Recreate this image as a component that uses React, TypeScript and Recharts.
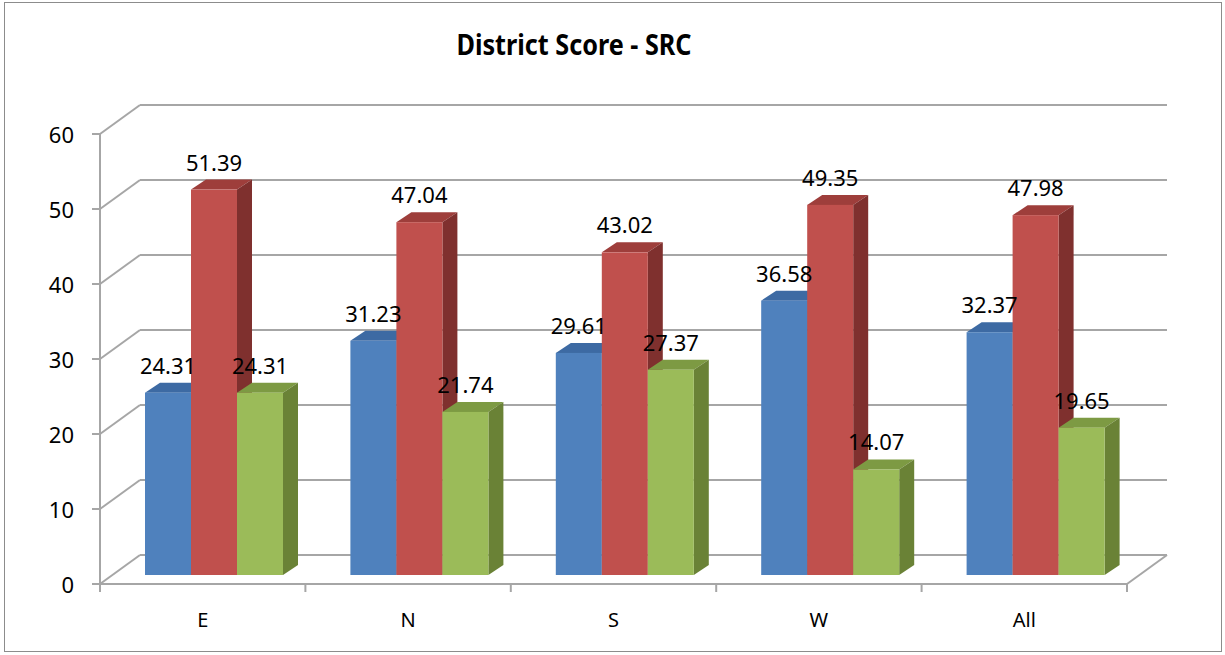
import React from "react";
import { BarChart, Bar, XAxis, YAxis, CartesianGrid, LabelList } from "recharts";

const categories = ["E", "N", "S", "W", "All"];
const blueValues = [24.31, 31.23, 29.61, 36.58, 32.37];
const redValues = [51.39, 47.04, 43.02, 49.35, 47.98];
const greenValues = [24.31, 21.74, 27.37, 14.07, 19.65];
const yTicks = [0, 10, 20, 30, 40, 50, 60];

const data = categories.map((name, i) => ({
  name,
  blue: blueValues[i],
  red: redValues[i],
  green: greenValues[i],
}));

const FONT = "'Noto Sans', 'Open Sans', sans-serif";
const GRID = "#a6a6a6";
// offsets of the front plane and back wall relative to the bar plane
const FRONT = { dx: -11, dy: 9 };
const BACK = { dx: 29, dy: -20 };
const BAR_DEPTH = { dx: 15, dy: -10 };
const PLOT_BOTTOM = 575;

function box(front: string, top: string, side: string) {
  return (props: any) => {
    const { x, y, width, height } = props;
    if (!height || height <= 0) return <g />;
    const { dx, dy } = BAR_DEPTH;
    return (
      <g>
        <path
          d={`M${x},${y} L${x + dx},${y + dy} L${x + width + dx},${y + dy} L${x + width},${y} Z`}
          fill={top}
        />
        <path
          d={`M${x + width},${y} L${x + width + dx},${y + dy} L${x + width + dx},${y + height + dy} L${x + width},${y + height} Z`}
          fill={side}
        />
        <rect x={x} y={y} width={width} height={height} fill={front} />
      </g>
    );
  };
}

function gridLine(props: any) {
  const { x, y, width, height, y1, index } = props;
  const fy = y1 + FRONT.dy;
  const by = y1 + BACK.dy;
  const fx = x + FRONT.dx;
  const bx = x + BACK.dx;
  const isFloor = Math.abs(y1 - (y + height)) < 0.5;
  return (
    <g key={`g-${index}`}>
      <line x1={bx} y1={by} x2={x + width + BACK.dx} y2={by} stroke={GRID} strokeWidth={2} />
      <line x1={fx} y1={fy} x2={bx} y2={by} stroke={GRID} strokeWidth={2} />
      <line x1={fx - 8} y1={fy} x2={fx} y2={fy} stroke={GRID} strokeWidth={2} />
      {index === 0 && (
        <line
          x1={fx}
          y1={y + FRONT.dy}
          x2={fx}
          y2={y + height + FRONT.dy}
          stroke={GRID}
          strokeWidth={2}
        />
      )}
      {isFloor && (
        <g>
          <line x1={fx} y1={fy} x2={x + width + FRONT.dx} y2={fy} stroke={GRID} strokeWidth={2} />
          <line
            x1={x + width + FRONT.dx}
            y1={fy}
            x2={x + width + BACK.dx}
            y2={by}
            stroke={GRID}
            strokeWidth={2}
          />
        </g>
      )}
    </g>
  );
}

function YTick(props: any) {
  const { y, payload } = props;
  return (
    <text
      x={74}
      y={y + FRONT.dy}
      textAnchor="end"
      dominantBaseline="central"
      fontSize={22}
      fontFamily={FONT}
      fill="#000"
    >
      {payload.value}
    </text>
  );
}

function XTick(props: any) {
  const { x, payload, index, visibleTicksCount } = props;
  const half = payload.offset ?? 0;
  const cx = x + FRONT.dx;
  const floorY = PLOT_BOTTOM + FRONT.dy;
  return (
    <g>
      <line x1={cx - half} y1={floorY} x2={cx - half} y2={floorY + 8} stroke={GRID} strokeWidth={2} />
      {index === visibleTicksCount - 1 && (
        <line x1={cx + half} y1={floorY} x2={cx + half} y2={floorY + 8} stroke={GRID} strokeWidth={2} />
      )}
      <text x={cx} y={627} textAnchor="middle" fontSize={20} fontFamily={FONT} fill="#000">
        {payload.value}
      </text>
    </g>
  );
}

function valueLabel(props: any) {
  const { x, y, width, value } = props;
  return (
    <text
      x={x + width / 2}
      y={y - 19}
      textAnchor="middle"
      fontSize={22}
      fontFamily={FONT}
      fill="#000"
    >
      {Number(value).toFixed(2)}
    </text>
  );
}

export default function App() {
  return (
    <div style={{ position: "absolute", left: 0, top: 0, width: 1225, height: 655, background: "#fff" }}>
      <div
        style={{
          position: "absolute",
          left: 4,
          top: 2,
          width: 1218,
          height: 650,
          border: "1.5px solid #8c8c8c",
          boxSizing: "border-box",
        }}
      />
      <BarChart
        width={1225}
        height={655}
        data={data}
        margin={{ top: 125, right: 87, left: 51, bottom: 50 }}
        barGap={0}
        barSize={46}
      >
        <CartesianGrid vertical={false} horizontal={gridLine} />
        <XAxis
          dataKey="name"
          height={30}
          axisLine={false}
          tickLine={false}
          tick={<XTick />}
          interval={0}
        />
        <YAxis
          width={60}
          domain={[0, 60]}
          ticks={yTicks}
          axisLine={false}
          tickLine={false}
          tick={<YTick />}
        />
        <Bar dataKey="blue" isAnimationActive={false} shape={box("#4f81bd", "#3d6aa3", "#385d8a")}>
          <LabelList dataKey="blue" content={valueLabel} />
        </Bar>
        <Bar dataKey="red" isAnimationActive={false} shape={box("#c0504d", "#9e3e3b", "#7f302e")}>
          <LabelList dataKey="red" content={valueLabel} />
        </Bar>
        <Bar dataKey="green" isAnimationActive={false} shape={box("#9bbb59", "#7d9a43", "#6a8236")}>
          <LabelList dataKey="green" content={valueLabel} />
        </Bar>
      </BarChart>
      <svg
        width={1225}
        height={80}
        style={{ position: "absolute", left: 0, top: 0, pointerEvents: "none" }}
      >
        <text
          x={574}
          y={55}
          textAnchor="middle"
          fontSize={29}
          fontWeight="bold"
          fontFamily={FONT}
          textLength={235}
          lengthAdjust="spacingAndGlyphs"
          fill="#000"
        >
          District Score - SRC
        </text>
      </svg>
    </div>
  );
}
